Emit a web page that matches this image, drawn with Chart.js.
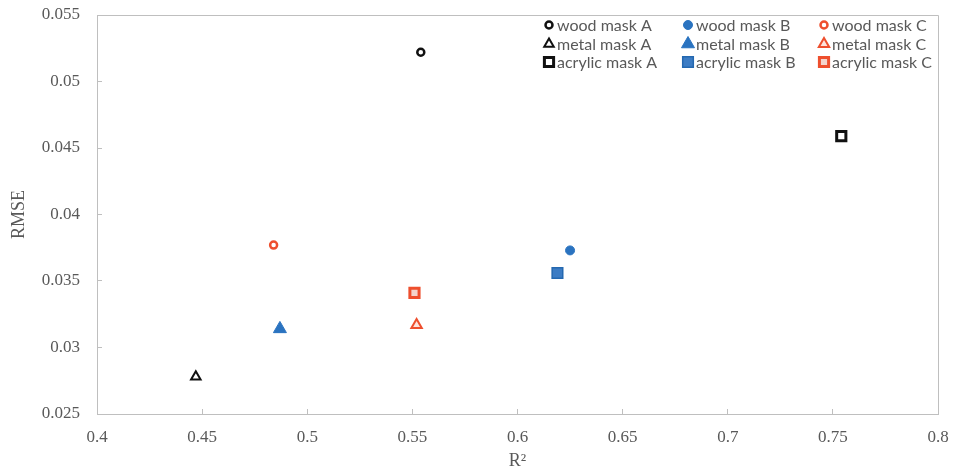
<!DOCTYPE html>
<html>
<head>
<meta charset="utf-8">
<script src="https://cdn.jsdelivr.net/npm/chart.js@4.4.0/dist/chart.umd.min.js"></script>
<style>
  html, body { margin: 0; padding: 0; background: #fff; }
  #wrap { width: 953px; height: 472px; }
</style>
</head>
<body>
<div id="wrap"><canvas id="maskChart"></canvas></div>
<script>
// Values (R² vs RMSE per mask)
const seriesNames = [
  'wood mask A', 'wood mask B', 'wood mask C',
  'metal mask A', 'metal mask B', 'metal mask C',
  'acrylic mask A', 'acrylic mask B', 'acrylic mask C'
];
const r2Values   = [0.554, 0.625, 0.484, 0.447, 0.487, 0.552, 0.754, 0.619, 0.551];
const rmseValues = [0.0522, 0.0373, 0.0377, 0.0278, 0.0314, 0.0317, 0.0459, 0.0356, 0.0341];
const xTicks = [0.4, 0.45, 0.5, 0.55, 0.6, 0.65, 0.7, 0.75, 0.8];
const yTicks = [0.025, 0.03, 0.035, 0.04, 0.045, 0.05, 0.055];

const BLACK = '#111111';
const BLUE = '#2a73c0';
const ORANGE = '#ee4f2e';
const AXIS = '#bfbfbf';
const TEXT = '#595959';

// marker look per series, same order as seriesNames
const markerStyles = [
  { pointStyle: 'circle',   radius: 3.5, border: BLACK,     fill: '#ffffff', width: 2.5 },
  { pointStyle: 'circle',   radius: 4.5, border: BLUE,      fill: BLUE,      width: 1 },
  { pointStyle: 'circle',   radius: 3.5, border: ORANGE,    fill: '#ffffff', width: 2.5 },
  { pointStyle: 'triangle', radius: 5.5, border: BLACK,     fill: '#ffffff', width: 2 },
  { pointStyle: 'triangle', radius: 7.5, border: BLUE,      fill: BLUE,      width: 1 },
  { pointStyle: 'triangle', radius: 6,   border: ORANGE,    fill: '#fde3dc', width: 2 },
  { pointStyle: 'rect',     radius: 6.5, border: BLACK,     fill: '#ffffff', width: 3 },
  { pointStyle: 'rect',     radius: 7.5, border: '#2468b0', fill: '#3c7cc4', width: 1.5 },
  { pointStyle: 'rect',     radius: 6.5, border: ORANGE,    fill: '#f4d4cc', width: 3 }
];

const datasets = seriesNames.map((name, i) => {
  const s = markerStyles[i];
  return {
    label: name,
    data: [{ x: r2Values[i], y: rmseValues[i] }],
    pointStyle: s.pointStyle,
    pointRadius: s.radius,
    pointBorderWidth: s.width,
    borderWidth: s.width,
    borderColor: s.border,
    backgroundColor: s.fill
  };
});

// light frame round the plot area (top and right sides)
const plotFrame = {
  id: 'plotFrame',
  beforeDatasetsDraw(chart) {
    const { ctx, chartArea: a } = chart;
    ctx.save();
    ctx.strokeStyle = AXIS;
    ctx.lineWidth = 1;
    ctx.beginPath();
    ctx.moveTo(Math.round(a.left) + 0.5, Math.round(a.top) + 0.5);
    ctx.lineTo(Math.round(a.right) + 0.5, Math.round(a.top) + 0.5);
    ctx.lineTo(Math.round(a.right) + 0.5, Math.round(a.bottom) + 0.5);
    ctx.stroke();
    ctx.restore();
  }
};

// 3 x 3 legend inside the plot, filled row by row
const gridLegend = {
  id: 'gridLegend',
  afterDraw(chart, args, opts) {
    const ctx = chart.ctx;
    ctx.save();
    ctx.font = opts.font;
    ctx.textBaseline = 'middle';
    ctx.textAlign = 'left';
    chart.data.datasets.forEach((ds, i) => {
      const x = opts.colX[i % 3];
      const y = opts.rowY[Math.floor(i / 3)];
      ctx.fillStyle = ds.backgroundColor;
      ctx.strokeStyle = ds.borderColor;
      ctx.lineWidth = ds.borderWidth;
      Chart.helpers.drawPoint(ctx, {
        pointStyle: ds.pointStyle,
        radius: ds.pointRadius,
        borderWidth: ds.borderWidth,
        rotation: 0
      }, x, y);
      ctx.fillStyle = opts.color;
      ctx.fillText(ds.label, x + opts.gap, y + 1);
    });
    ctx.restore();
  }
};

const tickFont = { family: 'Liberation Serif', size: 17 };
const titleFont = { family: 'Liberation Serif', size: 18 };

new Chart(document.getElementById('maskChart'), {
  type: 'scatter',
  data: { datasets },
  plugins: [plotFrame, gridLegend],
  options: {
    responsive: true,
    maintainAspectRatio: false,
    animation: false,
    layout: { padding: { left: 0, right: 15, top: 15, bottom: 0 } },
    plugins: {
      legend: { display: false },
      tooltip: { enabled: false },
      gridLegend: {
        colX: [549, 688, 824],
        rowY: [25, 44, 62],
        gap: 8,
        font: '16px Lato',
        color: TEXT
      }
    },
    scales: {
      x: {
        type: 'linear',
        min: 0.4,
        max: 0.8,
        afterBuildTicks: s => { s.ticks = xTicks.map(v => ({ value: v })); },
        afterFit: s => { s.height = 58; s.paddingLeft = 0; s.paddingRight = 0; },
        grid: { drawOnChartArea: false, tickLength: -5, color: AXIS },
        border: { color: AXIS },
        ticks: {
          padding: 18,
          color: TEXT,
          font: tickFont,
          callback: v => String(+v.toFixed(2))
        },
        title: { display: true, text: 'R²', color: TEXT, font: titleFont, padding: { top: 0, bottom: 0 } }
      },
      y: {
        type: 'linear',
        min: 0.025,
        max: 0.055,
        afterBuildTicks: s => { s.ticks = yTicks.map(v => ({ value: v })); },
        afterFit: s => { s.width = 97; s.paddingTop = 0; s.paddingBottom = 0; },
        grid: { drawOnChartArea: false, tickLength: -5, color: AXIS },
        border: { color: AXIS },
        ticks: {
          padding: 22,
          color: TEXT,
          font: tickFont,
          callback: v => String(+v.toFixed(3))
        },
        title: { display: true, text: 'RMSE', color: TEXT, font: titleFont, padding: { top: 8, bottom: 0 } }
      }
    }
  }
});
</script>
</body>
</html>
